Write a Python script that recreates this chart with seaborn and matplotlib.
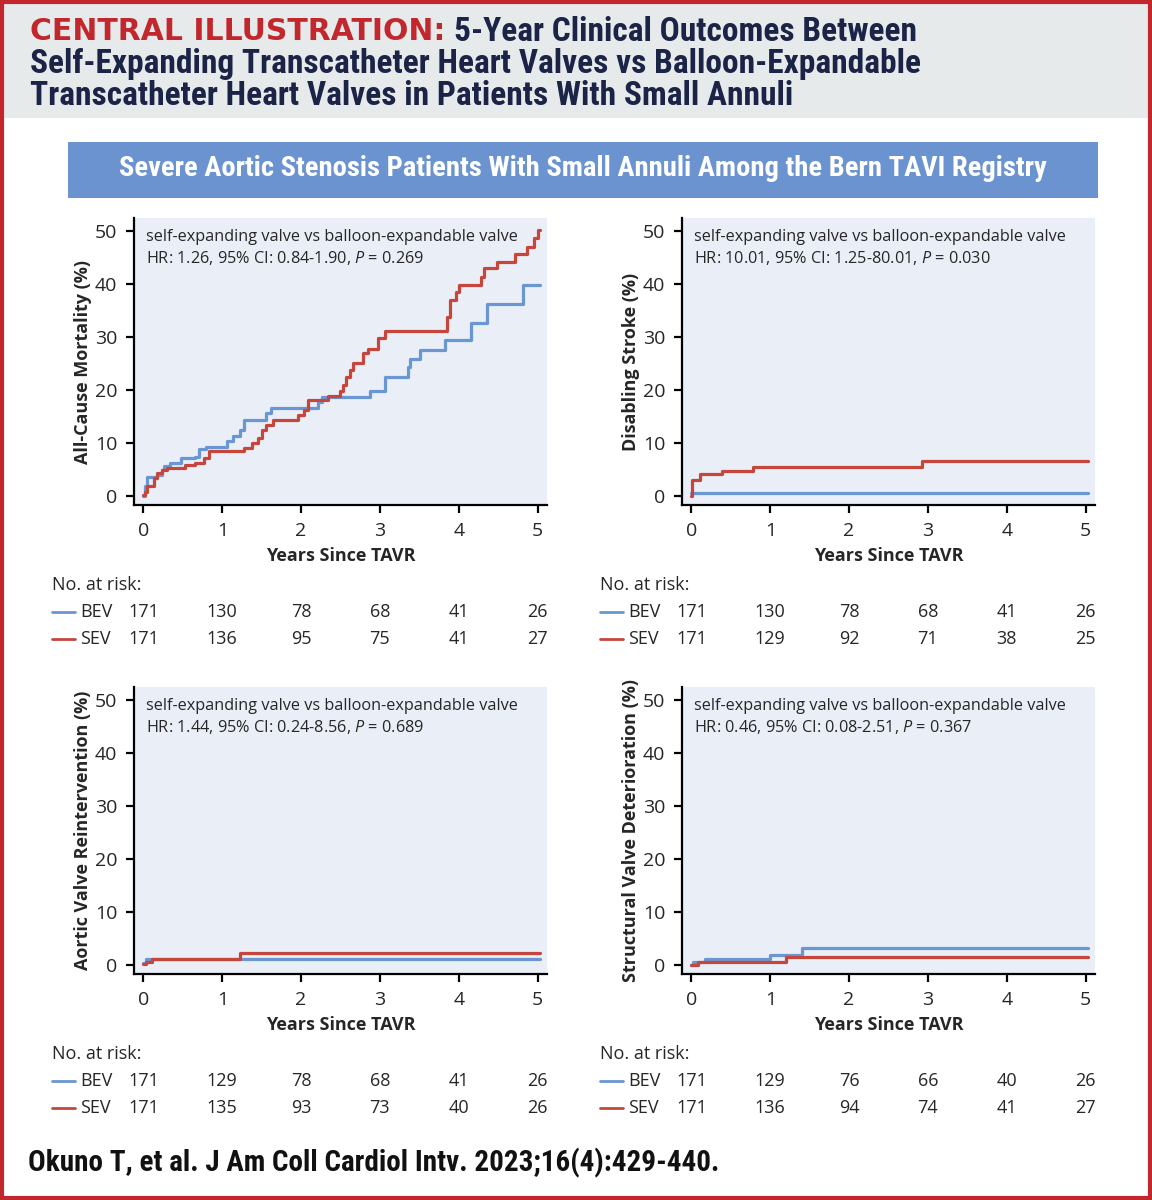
import matplotlib
matplotlib.use("Agg")
import matplotlib.pyplot as plt
import matplotlib.transforms as mtransforms
from matplotlib.patches import Rectangle
import seaborn as sns
import pandas as pd

# ---- data ----
years = [0, 1, 2, 3, 4, 5]

mort_bev_t = [0, 0.02, 0.04, 0.17, 0.23, 0.26, 0.34, 0.47, 0.66, 0.70, 0.79, 1.06, 1.13, 1.23, 1.28,
              1.55, 1.62, 2.21, 2.26, 2.87, 3.06, 3.36, 3.38, 3.51, 3.83, 4.15, 4.36, 4.81, 5.03]
mort_bev_v = [0, 1.8, 3.5, 4.0, 4.9, 5.7, 6.3, 7.1, 7.4, 8.9, 9.3, 10.4, 11.4, 12.4, 14.3,
              15.6, 16.5, 17.8, 18.7, 19.7, 22.5, 24.4, 25.9, 27.5, 29.4, 32.7, 36.2, 39.8, 39.8]
mort_sev_t = [0, 0.02, 0.04, 0.13, 0.17, 0.23, 0.30, 0.53, 0.66, 0.77, 0.83, 1.28, 1.38, 1.45, 1.51,
              1.55, 1.64, 1.96, 2.04, 2.09, 2.34, 2.49, 2.53, 2.57, 2.62, 2.66, 2.79, 2.85, 2.98,
              3.07, 3.85, 3.89, 3.96, 4.00, 4.28, 4.32, 4.49, 4.72, 4.87, 4.96, 5.00, 5.03]
mort_sev_v = [0.2, 0.8, 1.8, 3.3, 4.3, 4.9, 5.3, 5.8, 6.3, 7.1, 8.4, 9.0, 9.9, 10.9, 12.4,
              13.4, 14.3, 15.3, 16.2, 18.0, 18.9, 19.7, 20.9, 22.5, 23.7, 25.1, 26.9, 27.8, 29.7,
              31.1, 33.8, 36.9, 38.5, 39.8, 41.3, 42.9, 44.2, 45.7, 47.0, 48.6, 50.1, 50.1]

stroke_bev_t = [0, 5.03]
stroke_bev_v = [0.6, 0.6]
stroke_sev_t = [0, 0.01, 0.11, 0.39, 0.78, 2.93, 5.03]
stroke_sev_v = [0, 3.0, 4.2, 4.8, 5.4, 6.5, 6.5]

reint_bev_t = [0, 0.03, 5.03]
reint_bev_v = [0.3, 1.1, 1.1]
reint_sev_t = [0, 0.03, 0.11, 1.23, 5.03]
reint_sev_v = [0.1, 0.6, 1.2, 2.2, 2.2]

svd_bev_t = [0, 0.02, 0.17, 1.0, 1.4, 5.03]
svd_bev_v = [0, 0.5, 1.15, 1.9, 3.2, 3.2]
svd_sev_t = [0, 0.08, 1.2, 5.03]
svd_sev_v = [0, 0.5, 1.5, 1.5]

mort_risk_bev = [171, 130, 78, 68, 41, 26]
mort_risk_sev = [171, 136, 95, 75, 41, 27]
stroke_risk_bev = [171, 130, 78, 68, 41, 26]
stroke_risk_sev = [171, 129, 92, 71, 38, 25]
reint_risk_bev = [171, 129, 78, 68, 41, 26]
reint_risk_sev = [171, 135, 93, 73, 40, 26]
svd_risk_bev = [171, 129, 76, 66, 40, 26]
svd_risk_sev = [171, 136, 94, 74, 41, 27]

ylabels = ["All-Cause Mortality (%)", "Disabling Stroke (%)",
           "Aortic Valve Reintervention (%)", "Structural Valve Deterioration (%)"]
hr_texts = [r"HR: 1.26, 95% CI: 0.84-1.90, $P$ = 0.269",
            r"HR: 10.01, 95% CI: 1.25-80.01, $P$ = 0.030",
            r"HR: 1.44, 95% CI: 0.24-8.56, $P$ = 0.689",
            r"HR: 0.46, 95% CI: 0.08-2.51, $P$ = 0.367"]

BLUE = "#6a96d2"
RED = "#c7463c"
NAVY = "#1b2347"
palette = {"BEV": BLUE, "SEV": RED}

sns.set_theme(style="white")
plt.rcParams["font.family"] = ["Open Sans", "DejaVu Sans"]
plt.rcParams["mathtext.fontset"] = "custom"
plt.rcParams["mathtext.it"] = "Open Sans:italic"
plt.rcParams["mathtext.rm"] = "Open Sans"
COND = ["Roboto Condensed", "DejaVu Sans"]

W, H = 1152, 1200
fig = plt.figure(figsize=(W / 100, H / 100), dpi=100)

# background decorations
bg = fig.add_axes([0, 0, 1, 1], zorder=-5)
bg.set_xlim(0, W)
bg.set_ylim(H, 0)
bg.axis("off")
bg.add_patch(Rectangle((0, 0), W, 118, color="#e7eaeb", lw=0))
bg.add_patch(Rectangle((2, 2), W - 4, H - 4, fill=False, ec="#c1272d", lw=3))
bg.add_patch(Rectangle((68, 142), 1030, 56, color="#6b93cf", lw=0))
bg.text(583, 168, "Severe Aortic Stenosis Patients With Small Annuli Among the Bern TAVI Registry",
        ha="center", va="center", color="white", fontsize=20.5, fontweight="bold", family=COND,
        fontstretch="condensed")

t1 = bg.text(30, 32, "CENTRAL ILLUSTRATION:", ha="left", va="center", color="#c1272d",
             fontsize=21.5, fontweight="bold", family=["DejaVu Sans"])
bg.annotate("5-Year Clinical Outcomes Between", xy=(1, 0.5), xycoords=t1, xytext=(6, 0),
            textcoords="offset points", ha="left", va="center", color=NAVY,
            fontsize=24, fontweight="bold", family=COND, fontstretch="condensed")
bg.text(30, 64, "Self-Expanding Transcatheter Heart Valves vs Balloon-Expandable", ha="left",
        va="center", color=NAVY, fontsize=24, fontweight="bold", family=COND, fontstretch="condensed")
bg.text(30, 96, "Transcatheter Heart Valves in Patients With Small Annuli", ha="left",
        va="center", color=NAVY, fontsize=24, fontweight="bold", family=COND, fontstretch="condensed")
bg.text(28, 1163, "Okuno T, et al. J Am Coll Cardiol Intv. 2023;16(4):429-440.", ha="left",
        va="center", color="#111111", fontsize=21, fontweight="bold", family=COND,
        fontstretch="condensed")

panels = [
    (mort_bev_t, mort_bev_v, mort_sev_t, mort_sev_v, mort_risk_bev, mort_risk_sev),
    (stroke_bev_t, stroke_bev_v, stroke_sev_t, stroke_sev_v, stroke_risk_bev, stroke_risk_sev),
    (reint_bev_t, reint_bev_v, reint_sev_t, reint_sev_v, reint_risk_bev, reint_risk_sev),
    (svd_bev_t, svd_bev_v, svd_sev_t, svd_sev_v, svd_risk_bev, svd_risk_sev),
]
lefts = [134, 682]
tops = [218, 687]
aw, ah = 413, 287

for i, (bt, bv, st, sv, rb, rs) in enumerate(panels):
    left = lefts[i % 2]
    top = tops[i // 2]
    ax = fig.add_axes([left / W, 1 - (top + ah) / H, aw / W, ah / H])
    ax.set_facecolor("#e9eef7")

    df = pd.concat([
        pd.DataFrame({"t": bt, "v": bv, "arm": "BEV"}),
        pd.DataFrame({"t": st, "v": sv, "arm": "SEV"}),
    ])
    sns.lineplot(data=df, x="t", y="v", hue="arm", palette=palette, estimator=None,
                 drawstyle="steps-post", lw=2.3, legend=False, ax=ax)

    ax.set_xlim(-0.12, 5.12)
    ax.set_ylim(-1.7, 52.4)
    ax.set_xticks(years)
    ax.set_yticks([0, 10, 20, 30, 40, 50])
    for s in ["top", "right"]:
        ax.spines[s].set_visible(False)
    for s in ["left", "bottom"]:
        ax.spines[s].set_color("black")
        ax.spines[s].set_linewidth(1.6)
    ax.tick_params(axis="both", direction="out", length=6, width=1.6, color="black",
                   labelsize=14, pad=6, left=True, bottom=True)
    ax.set_xlabel("Years Since TAVR", fontsize=13, fontweight="bold", labelpad=5)
    ax.set_ylabel(ylabels[i], fontsize=13, fontweight="bold", labelpad=2)

    ax.text(0.03, 0.962, "self-expanding valve vs balloon-expandable valve", transform=ax.transAxes,
            ha="left", va="top", fontsize=11.7)
    ax.text(0.03, 0.892, hr_texts[i], transform=ax.transAxes, ha="left", va="top", fontsize=11.7)

    # numbers at risk
    tr = mtransforms.blended_transform_factory(ax.transData, bg.transData)
    base = top + ah
    bg.text(left - 82, base + 80, "No. at risk:", ha="left", va="center", fontsize=13)
    for k, (name, col, row) in enumerate([("BEV", BLUE, rb), ("SEV", RED, rs)]):
        y = base + 107 + 27 * k
        bg.plot([left - 82, left - 59], [y, y], color=col, lw=2)
        bg.text(left - 54, y, name, ha="left", va="center", fontsize=13)
        for x, n in zip(years, row):
            ax.text(x, y, str(n), transform=tr, ha="center", va="center", fontsize=13, clip_on=False)

fig.savefig("out.png", dpi=100)
